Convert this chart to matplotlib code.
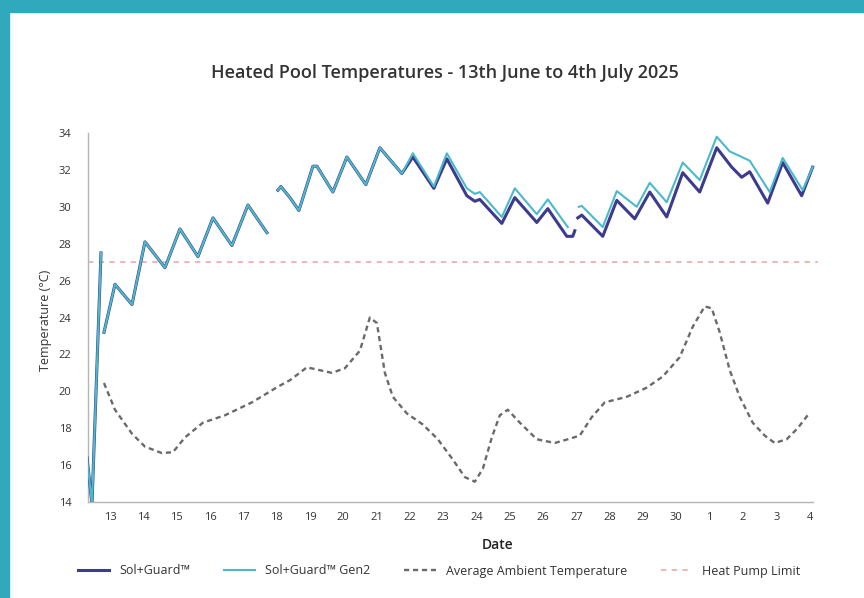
import numpy as np
import matplotlib
matplotlib.use("Agg")
import matplotlib.pyplot as plt
from matplotlib.patches import Rectangle

plt.rcParams['font.family'] = ['Open Sans', 'DejaVu Sans']

nan = np.nan

# day position: 0 = 13 June ... 21 = 4 July
tick_labels = ['13', '14', '15', '16', '17', '18', '19', '20', '21', '22', '23',
               '24', '25', '26', '27', '28', '29', '30', '1', '2', '3', '4']

# Sol+Guard (gaps in the logger data as NaN)
sg_day = [-0.69, -0.54, -0.27, nan,
          -0.18, 0.15, 0.66, 1.05, 1.65, 2.1, 2.64, 3.09, 3.66, 4.14, 4.71, nan,
          5.04, 5.13, 5.4, 5.67, 6.09, 6.21, 6.69, 7.11, 7.68, 8.1, 8.76, 9.09,
          9.72, 10.11, 10.71, 10.95, 11.1, 11.76, 12.15, 12.81, 13.14, 13.71,
          13.89, 13.95, nan,
          14.04, 14.16, 14.79, 15.21, 15.75, 16.2, 16.71, 17.19, 17.7, 18.21,
          18.66, 18.96, 19.2, 19.74, 20.19, 20.76, 21.09]
sg_temp = [16.4, 13.9, 27.5, nan,
           23.2, 25.8, 24.7, 28.1, 26.7, 28.8, 27.3, 29.4, 27.9, 30.1, 28.6, nan,
           30.9, 31.1, 30.5, 29.8, 32.2, 32.2, 30.8, 32.7, 31.2, 33.2, 31.8, 32.7,
           31.0, 32.6, 30.6, 30.3, 30.4, 29.1, 30.5, 29.15, 29.9, 28.4,
           28.4, 28.7, nan,
           29.4, 29.55, 28.4, 30.35, 29.35, 30.8, 29.45, 31.85, 30.8, 33.2,
           32.15, 31.6, 31.9, 30.2, 32.4, 30.6, 32.15]

# Sol+Guard Gen2
g2_day = [-0.69, -0.54, -0.27, nan,
          -0.18, 0.15, 0.66, 1.05, 1.65, 2.1, 2.64, 3.09, 3.66, 4.14, 4.71, nan,
          5.04, 5.13, 5.4, 5.67, 6.09, 6.21, 6.69, 7.11, 7.68, 8.1, 8.76, 9.09,
          9.72, 10.11, 10.71, 10.95, 11.1, 11.76, 12.15, 12.81, 13.14, 13.74, nan,
          14.07, 14.16, 14.79, 15.21, 15.81, 16.2, 16.71, 17.19, 17.7, 18.21,
          18.6, 18.96, 19.2, 19.8, 20.19, 20.79, 21.09]
g2_temp = [16.4, 13.9, 27.5, nan,
           23.2, 25.8, 24.7, 28.1, 26.7, 28.8, 27.3, 29.4, 27.9, 30.1, 28.6, nan,
           30.9, 31.1, 30.5, 29.8, 32.2, 32.2, 30.8, 32.7, 31.2, 33.2, 31.8, 32.9,
           31.1, 32.9, 31.0, 30.7, 30.8, 29.45, 31.0, 29.6, 30.4, 28.9, nan,
           30.0, 30.05, 28.9, 30.85, 30.0, 31.3, 30.25, 32.4, 31.45, 33.8,
           33.0, 32.7, 32.5, 30.8, 32.65, 30.9, 32.15]

# Average ambient temperature
amb_day = [-0.18, 0.15, 0.66, 1.05, 1.56, 1.89, 2.25, 2.79, 3.45, 4.26, 5.04,
           5.4, 5.91, 6.66, 7.05, 7.5, 7.8, 8.01, 8.25, 8.49, 8.91, 9.39, 9.84,
           10.29, 10.65, 10.95, 11.19, 11.46, 11.7, 11.94, 12.3, 12.81, 13.35,
           13.74, 14.1, 14.46, 14.85, 15.51, 16.11, 16.59, 17.1, 17.49, 17.85,
           18.06, 18.3, 18.6, 18.9, 19.29, 19.65, 19.95, 20.31, 20.64, 20.94]
amb_temp = [20.45, 19.0, 17.7, 17.0, 16.65, 16.7, 17.5, 18.3, 18.7, 19.4, 20.25,
            20.6, 21.3, 21.0, 21.25, 22.2, 24.0, 23.7, 21.0, 19.7, 18.8, 18.2, 17.4,
            16.3, 15.35, 15.1, 15.8, 17.5, 18.7, 19.0, 18.3, 17.4, 17.2,
            17.4, 17.6, 18.6, 19.4, 19.7, 20.2, 20.8, 21.85, 23.5, 24.6,
            24.5, 23.2, 21.15, 19.7, 18.3, 17.6, 17.2, 17.4, 18.0, 18.7]

heat_pump_limit = 27

fig = plt.figure(figsize=(8.64, 5.98), dpi=100)

# teal frame of the original graphic
teal = '#31a9bd'
fig.patches.append(Rectangle((0, 1 - 12 / 598), 1, 12 / 598, transform=fig.transFigure,
                             color=teal, zorder=0))
fig.patches.append(Rectangle((0, 0), 9 / 864, 1, transform=fig.transFigure,
                             color=teal, zorder=0))

ax = fig.add_axes([88 / 864, 1 - 502 / 598, (818 - 88) / 864, (502 - 133) / 598])

ax.axhline(heat_pump_limit, color='#eba3a3', lw=1.1, dashes=(3.5, 3.5),
           label='Heat Pump Limit', zorder=1)
ax.plot(amb_day, amb_temp, color='#6a6a6a', lw=1.7, dashes=(2.2, 1.6),
        label='Average Ambient Temperature', zorder=2)
ax.plot(sg_day, sg_temp, color='#3c3b8e', lw=2.2, label='Sol+Guard™', zorder=3)
ax.plot(g2_day, g2_temp, color='#4cb9cb', lw=1.5, label='Sol+Guard™ Gen2', zorder=4)

ax.set_xlim(-0.66, 21.25)
ax.set_ylim(14, 34)
ax.set_xticks(range(len(tick_labels)))
ax.set_xticklabels(tick_labels)
ax.set_yticks(range(14, 35, 2))
ax.tick_params(length=0, labelsize=8, labelcolor='#333333')
ax.tick_params(axis='y', pad=12)
ax.tick_params(axis='x', pad=7)
for s in ['top', 'right']:
    ax.spines[s].set_visible(False)
for s in ['left', 'bottom']:
    ax.spines[s].set_color('#b5b5b5')
    ax.spines[s].set_linewidth(1)
ax.spines['bottom'].set_bounds(-0.66, 21.1)

fig.text(445 / 864, 1 - 73 / 598, 'Heated Pool Temperatures - 13th June to 4th July 2025',
         ha='center', va='center', fontsize=13, fontweight='semibold', color='#333333')
fig.text(45 / 864, 1 - 320 / 598, 'Temperature (°C)', rotation=90,
         ha='center', va='center', fontsize=9, color='#333333')
fig.text(498 / 864, 1 - 545 / 598, 'Date', ha='center', va='center',
         fontsize=10, fontweight='semibold', color='#222222')

handles, labels = ax.get_legend_handles_labels()
order = [2, 3, 1, 0]
fig.legend([handles[i] for i in order], [labels[i] for i in order],
           loc='center', bbox_to_anchor=(439 / 864, 1 - 571 / 598), ncol=4,
           frameon=False, fontsize=9, handlelength=2.5, handletextpad=0.8,
           columnspacing=2.7, labelcolor='#333333')

fig.savefig('out.png', dpi=100, facecolor='white')
